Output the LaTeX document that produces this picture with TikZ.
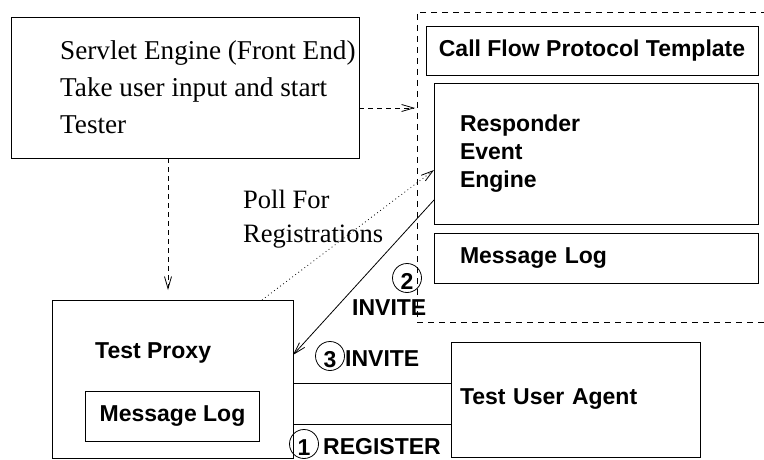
\documentclass[tikz,border=0pt]{standalone}
\usepackage{fontspec}
\setmainfont{Liberation Serif}
\setsansfont{Liberation Sans}
\usetikzlibrary{arrows.meta, positioning}

\begin{document}
\begin{tikzpicture}[
  x=1pt, y=-1pt,
  box/.style={draw, line width=0.8pt, inner sep=0pt, outer sep=0pt},
  dashbox/.style={box, dash pattern=on 6pt off 5pt},
  txt/.style={inner sep=0pt, align=left,
              font=\sffamily\bfseries\fontsize{23}{28}\selectfont},
  serif/.style={inner sep=0pt, align=left,
                font=\rmfamily\fontsize{26.5}{37}\selectfont},
  num/.style={draw, circle, line width=0.8pt, minimum size=29pt, inner sep=0pt,
              text height=23pt, text depth=0pt,
              font=\sffamily\bfseries\fontsize{23}{23}\selectfont},
  arr/.style={-{Straight Barb[length=12pt, width=7pt]}, line width=0.8pt},
  dasharr/.style={arr, dash pattern=on 5pt off 4pt},
  dotarr/.style={arr, dash pattern=on 0.8pt off 3pt},
  link/.style={line width=0.8pt}
]
\useasboundingbox (0,0) rectangle (764,460);

% Front end
\node[box, minimum width=348pt, minimum height=141pt, anchor=north west] (servlet) at (11,17) {};
\node[serif, font=\rmfamily\fontsize{27.2}{37}\selectfont, anchor=base west] (servlettxt) at (60,133) {Servlet Engine (Front End)\\Take user input and start\\Tester};

% Call flow side
\node[dashbox, minimum width=383pt, minimum height=310pt, anchor=north west] (flow) at (417,12) {};
\node[box, txt, minimum width=332pt, minimum height=49pt, anchor=north west] (template) at (426,26) {Call Flow Protocol Template};
\node[box, txt, text width=272pt, inner xsep=26pt, minimum height=141pt, anchor=north west] (responder) at (434,83) {Responder\\Event\\Engine};
\node[box, txt, text width=272pt, inner xsep=26pt, minimum height=50pt, below=9pt of responder] (rlog) {Message Log};

% Proxy
\node[box, minimum width=241pt, minimum height=158pt, anchor=north west] (proxy) at (52,300) {};
\node[txt, anchor=base west] (proxytxt) at (95,358) {Test Proxy};
\node[box, txt, minimum width=174pt, minimum height=50pt, above=17pt of proxy.south] (plog) {Message Log};

% User agent
\node[box, txt, text width=231pt, inner xsep=9pt, minimum height=115pt, anchor=north west] (agent) at (451,342) {Test User Agent};

% Poll label
\node[serif, anchor=base west] (poll) at (243,242) {Poll For\\[-3pt]Registrations};

% Steps
\node[num] (n2) at (407,278) {2};
\node[txt, anchor=base west] (inv2) at (352,315) {INVITE};
\node[num] (n3) at (330,356) {3};
\node[txt, anchor=base west] (inv3) at (345,366) {INVITE};
\node[num] (n1) at (304,444) {1};
\node[txt, anchor=base west] (reg) at (323,454) {REGISTER};

% Connectors
\draw[dasharr, shorten >=10pt] ([xshift=-17pt]servlet.south) -- ([xshift=-17pt]servlet.south |- proxy.north);
\draw[dasharr, shorten >=2pt] ([yshift=-20.5pt]servlet.east) -- ([yshift=-20.5pt]servlet.east -| flow.west);
\draw[dotarr] ([xshift=89.5pt]proxy.north) -- ([yshift=-16.5pt]responder.west);
\draw[arr] ([yshift=-46.5pt]responder.west) -- ([yshift=24pt]proxy.east);
\draw[link] ([yshift=-4pt]proxy.east) -- ([yshift=-4pt]proxy.east -| agent.west);
\draw[link] ([yshift=-45pt]proxy.east) -- ([yshift=-45pt]proxy.east -| agent.west);

\end{tikzpicture}
\end{document}
